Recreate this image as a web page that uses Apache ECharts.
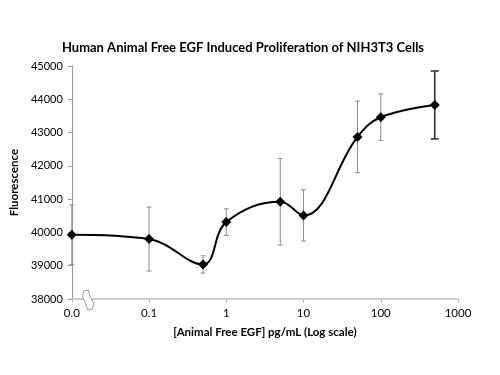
<!DOCTYPE html>
<html>
<head>
<meta charset="utf-8">
<script src="https://cdn.jsdelivr.net/npm/echarts@6/dist/echarts.min.js"></script>
<style>html,body{margin:0;padding:0;background:#fff}#c{width:500px;height:375px}</style>
</head>
<body>
<div id="c"></div>
<script>
// Data
var doses = [0.01, 0.1, 0.5, 1, 5, 10, 50, 100, 500];
var fluorescence = [39930, 39800, 39040, 40310, 40920, 40510, 42870, 43460, 43830];
var errors = [900, 960, 260, 400, 1300, 770, 1075, 700, 1020];
var xTickLabels = ['0.0', '0.1', '1', '10', '100', '1000'];
var yTicks = [38000, 39000, 40000, 41000, 42000, 43000, 44000, 45000];

var FONT = 'Lato';
var chart = echarts.init(document.getElementById('c'), null, {renderer: 'canvas'});

var lineData = doses.map(function (d, i) { return [d, fluorescence[i]]; });
var errData = doses.map(function (d, i) { return [d, fluorescence[i] - errors[i], fluorescence[i] + errors[i], i]; });

function xLabel(v) {
  var e = Math.round(Math.log10(v));
  var idx = e + 2;
  return xTickLabels[idx] !== undefined ? xTickLabels[idx] : '';
}

chart.setOption({
  animation: false,
  backgroundColor: '#fff',
  title: {
    text: 'Human Animal Free EGF Induced Proliferation of NIH3T3 Cells',
    left: 238, top: 36, textAlign: 'center',
    textStyle: {fontFamily: FONT, fontWeight: 'bold', fontSize: 13, color: '#000'}
  },
  grid: {left: 66, right: 42, top: 66, bottom: 76},
  xAxis: {
    type: 'log', logBase: 10, min: 0.01, max: 1000,
    name: '[Animal Free EGF] pg/mL (Log scale)',
    nameLocation: 'middle', nameGap: 27,
    nameTextStyle: {fontFamily: FONT, fontWeight: 'bold', fontSize: 11.5, color: '#000'},
    axisLine: {show: true, lineStyle: {color: '#bdbdbd', width: 1.5}},
    axisTick: {show: true, length: 4, lineStyle: {color: '#bdbdbd'}},
    minorTick: {show: false},
    splitLine: {show: false},
    axisLabel: {fontFamily: FONT, fontSize: 11.5, color: '#000', margin: 8, formatter: xLabel}
  },
  yAxis: {
    type: 'value', min: 38000, max: 45000, interval: 1000,
    name: 'Fluorescence', nameLocation: 'middle', nameGap: 42, nameRotate: 90,
    nameTextStyle: {fontFamily: FONT, fontWeight: 'bold', fontSize: 11.5, color: '#000'},
    axisLine: {show: true, lineStyle: {color: '#9a9a9a', width: 1}},
    axisTick: {show: true, length: 4, lineStyle: {color: '#9a9a9a'}},
    splitLine: {show: false},
    axisLabel: {fontFamily: FONT, fontSize: 11, color: '#000', margin: 9,
      formatter: function (v) { return yTicks.indexOf(v) >= 0 ? String(v) : ''; }}
  },
  series: [
    {
      type: 'custom',
      data: errData,
      z: 2,
      renderItem: function (params, api) {
        var x = api.value(0);
        var lo = api.coord([x, api.value(1)]);
        var hi = api.coord([x, api.value(2)]);
        var last = api.value(3) === doses.length - 1;
        var col = last ? '#333' : '#8c8c8c';
        var w = last ? 1.6 : 1;
        var cap = last ? 4 : 2.5;
        var st = {stroke: col, lineWidth: w};
        return {
          type: 'group',
          children: [
            {type: 'line', shape: {x1: lo[0], y1: lo[1], x2: hi[0], y2: hi[1]}, style: st},
            {type: 'line', shape: {x1: lo[0] - cap, y1: lo[1], x2: lo[0] + cap, y2: lo[1]}, style: st},
            {type: 'line', shape: {x1: hi[0] - cap, y1: hi[1], x2: hi[0] + cap, y2: hi[1]}, style: st}
          ]
        };
      }
    },
    {
      type: 'line',
      data: lineData,
      smooth: 0.4,
      z: 3,
      symbol: 'diamond',
      symbolSize: 10,
      lineStyle: {color: '#000', width: 2},
      itemStyle: {color: '#000'}
    }
  ]
});

// axis-break marker on the x axis
var p = chart.convertToPixel({xAxisIndex: 0, yAxisIndex: 0}, [0.0165, 38000]);
chart.setOption({
  graphic: [{
    type: 'polygon',
    shape: {points: [[p[0] - 5, p[1] - 8], [p[0], p[1] - 9], [p[0] + 1, p[1] - 3], [p[0] + 5, p[1] + 4], [p[0] + 4, p[1] + 10], [p[0] - 1, p[1] + 11], [p[0] - 3, p[1] + 4], [p[0] - 6, p[1] - 2]]},
    style: {fill: '#fff', stroke: '#9a9a9a', lineWidth: 1},
    z: 10
  }]
});
</script>
</body>
</html>
